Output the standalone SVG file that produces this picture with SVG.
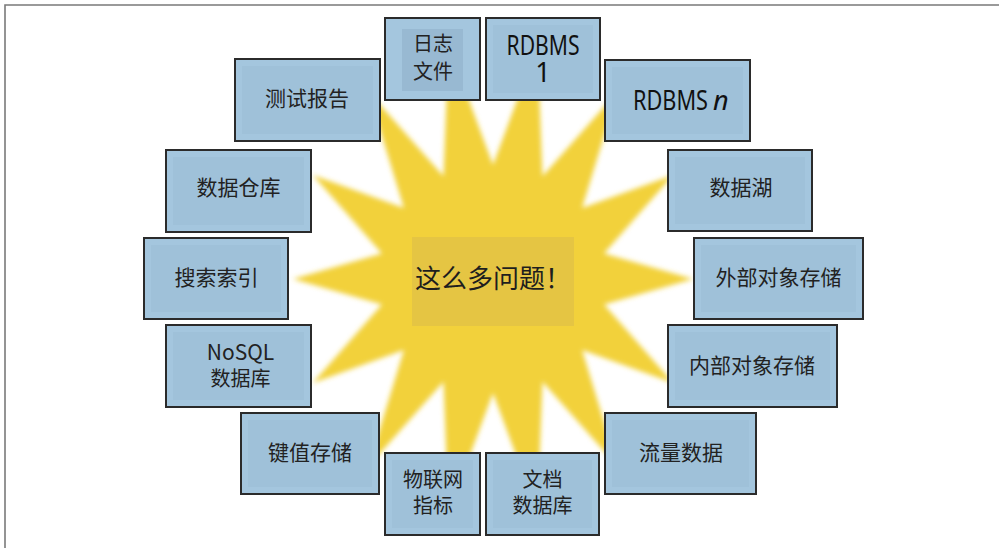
<svg xmlns="http://www.w3.org/2000/svg" width="999" height="548" viewBox="0 0 999 548">
<style>
.frame{stroke:#7a7a7a;stroke-width:1.6;fill:none}
.box{fill:#a4c6de;stroke:#2b2b2b;stroke-width:2}
.inner{fill:#9fc1d9}
.t{font-family:"Noto Sans CJK SC","Noto Sans",sans-serif;font-size:21px;fill:#222;text-anchor:middle}
.t2{font-size:20px}
.r{font-family:"Noto Sans","Noto Sans CJK SC",sans-serif;font-size:28px;fill:#111}
</style>
<defs>
<filter id="soft" x="-10%" y="-10%" width="120%" height="120%">
<feGaussianBlur stdDeviation="2.8"/>
</filter>
</defs>
<rect width="999" height="548" fill="#ffffff"/>
<path class="frame" d="M5,548 L5,5 L999,5"/>
<g id="star">
<polygon filter="url(#soft)" fill="#f2d13b" points="693,279 604.1,253.6 673.2,174.9 582.1,207.9 617.7,91.4 542.5,176.3 537.5,45 493,165 448.5,45 443.5,176.3 368.3,91.4 403.9,207.9 312.8,174.9 381.9,253.6 293,279 381.9,304.4 312.8,383.1 403.9,350.1 368.3,466.6 443.5,381.7 448.5,513 493,393 537.5,513 542.5,381.7 617.7,466.6 582.1,350.1 673.2,383.1 604.1,304.4"/>
</g>
<g id="center">
<rect x="412" y="237" width="162" height="89" fill="#e5c543"/>
<text x="415" y="288" style="font-family:'Noto Sans CJK SC',sans-serif;font-size:26px;fill:#1e1e1e">这么多问题！</text>
</g>
<g id="connectors"></g>
<g id="n-log">
<rect class="box" x="385" y="18" width="95" height="82"/>
<rect x="402" y="29" width="61" height="62" fill="#98b9d2"/>
<text class="t t2" x="433" y="51">日志<tspan x="433" dy="28">文件</tspan></text>
</g>
<g id="n-rdbms1">
<rect class="box" x="486" y="18" width="114" height="82"/>
<rect class="inner" x="493" y="25" width="100" height="68"/>
<text class="r" x="543" y="55" text-anchor="middle"><tspan textLength="73" lengthAdjust="spacingAndGlyphs">RDBMS</tspan><tspan x="543" dy="27" style="font-size:27px">1</tspan></text>
</g>
<g id="n-rdbmsn">
<rect class="box" x="605" y="60" width="145" height="81"/>
<rect class="inner" x="612" y="67" width="131" height="67"/>
<text class="r" x="633" y="110"><tspan textLength="75" lengthAdjust="spacingAndGlyphs">RDBMS</tspan><tspan x="713" style="font-style:italic;font-size:27px">n</tspan></text>
</g>
<g id="n-test">
<rect class="box" x="235" y="59" width="145" height="82"/>
<rect class="inner" x="242" y="66" width="131" height="68"/>
<text class="t" x="307" y="105.5">测试报告</text>
</g>
<g id="n-dw">
<rect class="box" x="166" y="150" width="145" height="82"/>
<rect class="inner" x="173" y="157" width="131" height="68"/>
<text class="t" x="238.5" y="194.5">数据仓库</text>
</g>
<g id="n-search">
<rect class="box" x="144" y="238" width="144" height="81"/>
<rect class="inner" x="151" y="245" width="130" height="67"/>
<text class="t" x="216.5" y="284.5">搜索索引</text>
</g>
<g id="n-nosql">
<rect class="box" x="166" y="325" width="145" height="82"/>
<rect class="inner" x="173" y="332" width="131" height="68"/>
<text class="t" x="240.5" y="360">NoSQL<tspan class="t2" x="240.5" dy="26">数据库</tspan></text>
</g>
<g id="n-kv">
<rect class="box" x="241" y="413" width="138" height="81"/>
<rect class="inner" x="248" y="420" width="124" height="67"/>
<text class="t" x="310" y="460">键值存储</text>
</g>
<g id="n-iot">
<rect class="box" x="385" y="453" width="95" height="82"/>
<rect class="inner" x="392" y="460" width="81" height="68"/>
<text class="t t2" x="433" y="487">物联网<tspan x="433" dy="26">指标</tspan></text>
</g>
<g id="n-doc">
<rect class="box" x="486" y="453" width="113" height="82"/>
<rect class="inner" x="493" y="460" width="99" height="68"/>
<text class="t t2" x="542.5" y="487">文档<tspan x="542.5" dy="26">数据库</tspan></text>
</g>
<g id="n-stream">
<rect class="box" x="605" y="413" width="151" height="81"/>
<rect class="inner" x="612" y="420" width="137" height="67"/>
<text class="t" x="681" y="460">流量数据</text>
</g>
<g id="n-internal">
<rect class="box" x="668" y="325" width="169" height="82"/>
<rect class="inner" x="675" y="332" width="155" height="68"/>
<text class="t" x="752" y="372.5">内部对象存储</text>
</g>
<g id="n-external">
<rect class="box" x="694" y="238" width="169" height="81"/>
<rect class="inner" x="701" y="245" width="155" height="67"/>
<text class="t" x="778.5" y="284.5">外部对象存储</text>
</g>
<g id="n-lake">
<rect class="box" x="668" y="150" width="144" height="81"/>
<rect class="inner" x="675" y="157" width="130" height="67"/>
<text class="t" x="741" y="194.5">数据湖</text>
</g>
</svg>
